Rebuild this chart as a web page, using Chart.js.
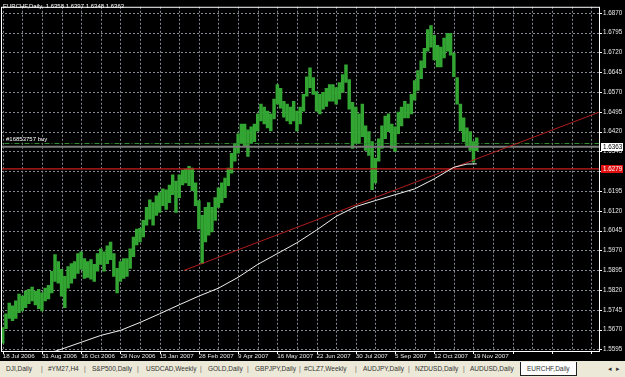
<!DOCTYPE html>
<html>
<head>
<meta charset="utf-8">
<title>EURCHF,Daily</title>
<script src="https://cdn.jsdelivr.net/npm/chart.js@4.4.1/dist/chart.umd.min.js"></script>
<style>
  html, body { margin: 0; padding: 0; background: #000; }
  body { width: 625px; height: 377px; overflow: hidden; position: relative; font-family: 'Liberation Sans', Arial, sans-serif; }
  #wrap { position: absolute; left: 0; top: 0; width: 625px; height: 361px; }
  #tabs { position: absolute; left: 0; top: 361px; width: 625px; height: 16px; background: #ece9d8; font-size: 6.5px; color: #333; }
  #tabs span { position: absolute; top: 4px; white-space: nowrap; }
  #tabs .sep { color: #666; }
  #tabs .active { top: 1px; height: 13px; line-height: 13px; background: #fff; border: 1px solid #222; border-top: none; padding: 0 6px; }
</style>
</head>
<body>
<div id="wrap"><canvas id="chart" width="625" height="361"></canvas></div>
<div id="tabs">
  <span style="left:6px">DJI,Daily</span><span class="sep" style="left:41px">|</span>
  <span style="left:48px">#YM27,H4</span><span class="sep" style="left:84px">|</span>
  <span style="left:92px">S&amp;P500,Daily</span><span class="sep" style="left:137px">|</span>
  <span style="left:146px">USDCAD,Weekly</span><span class="sep" style="left:200px">|</span>
  <span style="left:208px">GOLD,Daily</span><span class="sep" style="left:247px">|</span>
  <span style="left:255px">GBPJPY,Daily</span><span class="sep" style="left:299px">|</span>
  <span style="left:304px">#CLZ7,Weekly</span><span class="sep" style="left:355px">|</span>
  <span style="left:363px">AUDJPY,Daily</span><span class="sep" style="left:408px">|</span>
  <span style="left:415px">NZDUSD,Daily</span><span class="sep" style="left:463px">|</span>
  <span style="left:470px">AUDUSD,Daily</span>
  <span class="active" style="left:520px">EURCHF,Daily</span>
  <span style="left:608px">&#9666;</span><span style="left:616px">&#9656;</span>
</div>
<script>
// Daily bars (one entry per ~2.5 trading days)
const highs = [
  1.5678, 1.5730, 1.5771, 1.5760, 1.5779, 1.5805, 1.5797, 1.5816, 1.5823, 1.5831,
  1.5816, 1.5823, 1.5809, 1.5827, 1.5838, 1.5891, 1.5954, 1.5928, 1.5898, 1.5872,
  1.5909, 1.5920, 1.5928, 1.5958, 1.5965, 1.5939, 1.5928, 1.5935, 1.5917, 1.5958,
  1.5976, 1.5965, 1.5987, 1.6002, 1.5958, 1.5902, 1.5928, 1.5939, 1.5939, 1.5976,
  1.6021, 1.6051, 1.6054, 1.6084, 1.6133, 1.6162, 1.6151, 1.6177, 1.6189, 1.6203,
  1.6200, 1.6218, 1.6256, 1.6233, 1.6256, 1.6274, 1.6278, 1.6289, 1.6282, 1.6226,
  1.6159, 1.6103, 1.6133, 1.6151, 1.6133, 1.6170, 1.6207, 1.6226, 1.6244, 1.6282,
  1.6338, 1.6375, 1.6412, 1.6449, 1.6449, 1.6427, 1.6438, 1.6449, 1.6487, 1.6524,
  1.6513, 1.6498, 1.6487, 1.6543, 1.6598, 1.6584, 1.6535, 1.6524, 1.6513, 1.6535,
  1.6498, 1.6513, 1.6561, 1.6628, 1.6662, 1.6625, 1.6572, 1.6561, 1.6569, 1.6584,
  1.6598, 1.6598, 1.6587, 1.6606, 1.6636, 1.6673, 1.6617, 1.6531, 1.6513, 1.6487,
  1.6524, 1.6442, 1.6420, 1.6382, 1.6319, 1.6393, 1.6442, 1.6479, 1.6487, 1.6449,
  1.6438, 1.6494, 1.6513, 1.6535, 1.6524, 1.6561, 1.6613, 1.6651, 1.6688, 1.6736,
  1.6807, 1.6822, 1.6785, 1.6747, 1.6740, 1.6774, 1.6792, 1.6792, 1.6718, 1.6625,
  1.6524, 1.6472, 1.6434, 1.6420, 1.6382, 1.6397
];
const lows = [
  1.5619, 1.5674, 1.5712, 1.5704, 1.5712, 1.5734, 1.5741, 1.5753, 1.5768, 1.5779,
  1.5764, 1.5749, 1.5741, 1.5779, 1.5786, 1.5809, 1.5853, 1.5846, 1.5797, 1.5753,
  1.5827, 1.5846, 1.5864, 1.5883, 1.5898, 1.5864, 1.5868, 1.5861, 1.5853, 1.5891,
  1.5917, 1.5891, 1.5920, 1.5935, 1.5872, 1.5809, 1.5853, 1.5864, 1.5872, 1.5902,
  1.5946, 1.5991, 1.6002, 1.6021, 1.6066, 1.6088, 1.6066, 1.6103, 1.6114, 1.6140,
  1.6125, 1.6151, 1.6181, 1.6114, 1.6170, 1.6218, 1.6226, 1.6215, 1.6196, 1.6140,
  1.6051, 1.5920, 1.6002, 1.6028, 1.6040, 1.6084, 1.6133, 1.6151, 1.6170, 1.6215,
  1.6263, 1.6308, 1.6338, 1.6375, 1.6367, 1.6326, 1.6375, 1.6382, 1.6423, 1.6461,
  1.6449, 1.6434, 1.6423, 1.6468, 1.6524, 1.6509, 1.6475, 1.6461, 1.6449, 1.6461,
  1.6423, 1.6449, 1.6498, 1.6554, 1.6587, 1.6561, 1.6498, 1.6487, 1.6505, 1.6516,
  1.6535, 1.6535, 1.6524, 1.6543, 1.6569, 1.6606, 1.6505, 1.6356, 1.6375, 1.6375,
  1.6401, 1.6349, 1.6330, 1.6200, 1.6226, 1.6308, 1.6356, 1.6393, 1.6420, 1.6356,
  1.6345, 1.6412, 1.6442, 1.6472, 1.6472, 1.6487, 1.6539, 1.6576, 1.6621, 1.6662,
  1.6725, 1.6740, 1.6692, 1.6665, 1.6665, 1.6699, 1.6725, 1.6710, 1.6628, 1.6524,
  1.6423, 1.6382, 1.6364, 1.6349, 1.6304, 1.6348
];

// moving average (white line)
const maIndex  = [15, 18, 24, 30, 36, 42, 48, 54, 60, 66, 72, 78, 84, 90, 96, 102, 108, 114, 120, 126, 132, 138, 142, 145];
const maValues = [1.5584, 1.5596, 1.5622, 1.5648, 1.5667, 1.5697, 1.5730, 1.5764, 1.5797, 1.5827, 1.5868, 1.5917,
                  1.5958, 1.5999, 1.6047, 1.6099, 1.6136, 1.6159, 1.6181, 1.6203, 1.6241, 1.6285, 1.6297, 1.6298];

// trend line (red ray)
const trendIndex  = [55.4, 182.7];
const trendValues = [1.5894, 1.6495];

// horizontal levels
const bidPrice = 1.6363;
const stopPrice = 1.6279;
const orderPrice = 1.6375;
const orderLabel = '#16853757 buy';
const titleText = 'EURCHF,Daily  1.6358 1.6397 1.6348 1.6363';

// axes
const priceTicks = [1.5595, 1.5670, 1.5745, 1.5820, 1.5895, 1.5970, 1.6045, 1.6120, 1.6195,
                    1.6270, 1.6345, 1.6420, 1.6495, 1.6570, 1.6645, 1.6720, 1.6795, 1.6870];
const dateLabels = ['18 Jul 2006', '31 Aug 2006', '16 Oct 2006', '29 Nov 2006', '15 Jan 2007', '28 Feb 2007',
                    '9 Apr 2007', '16 May 2007', '22 Jun 2007', '30 Jul 2007', '5 Sep 2007', '12 Oct 2007', '19 Nov 2007'];

const X_MIN = -0.52, X_MAX = 182.7;
const Y_MIN = 1.5589, Y_MAX = 1.6893;
const FONT_FAMILY = "'Liberation Sans', Arial, sans-serif";
const GRID_COLOR = '#838a92';

function hline(value) {
    return [{ x: X_MIN - 2, y: value }, { x: X_MAX + 2, y: value }];
}

// dotted MT4 style grid, drawn under the bars
const gridPlugin = {
    id: 'mtGrid',
    beforeDatasetsDraw(chart) {
        const { ctx, chartArea: a, scales: { x, y } } = chart;
        ctx.save();
        ctx.strokeStyle = GRID_COLOR;
        ctx.lineWidth = 1;
        ctx.setLineDash([2, 2]);
        x.ticks.forEach(t => {
            const px = Math.round(x.getPixelForValue(t.value)) + 0.5;
            ctx.beginPath(); ctx.moveTo(px, a.top); ctx.lineTo(px, a.bottom); ctx.stroke();
        });
        y.ticks.forEach(t => {
            const py = Math.round(y.getPixelForValue(t.value)) + 0.5;
            ctx.beginPath(); ctx.moveTo(a.left, py); ctx.lineTo(a.right, py); ctx.stroke();
        });
        ctx.restore();
    }
};

// frame, captions and price boxes
const overlay = {
    id: 'overlay',
    afterDraw(chart) {
        const { ctx, chartArea: a, scales: { x, y } } = chart;
        ctx.save();
        ctx.strokeStyle = '#ffffff';
        ctx.lineWidth = 1;
        ctx.strokeRect(a.left + 0.5, a.top + 0.5, a.right - a.left - 1, a.bottom - a.top);

        // small tick marks on both axes
        ctx.beginPath();
        y.ticks.forEach(t => {
            const py = Math.round(y.getPixelForValue(t.value)) + 0.5;
            ctx.moveTo(a.right, py); ctx.lineTo(a.right + 2, py);
        });
        x.ticks.forEach(t => {
            if (t.value % 12 !== 0) return;
            const px = Math.round(x.getPixelForValue(t.value)) + 0.5;
            ctx.moveTo(px, a.bottom); ctx.lineTo(px, a.bottom + 3);
        });
        ctx.stroke();

        ctx.font = `6px ${FONT_FAMILY}`;
        ctx.fillStyle = '#ffffff';
        ctx.textBaseline = 'middle';
        ctx.fillText(titleText, 3, 6);
        ctx.fillText(orderLabel, 6, y.getPixelForValue(orderPrice) - 4);

        const boxes = [
            { v: bidPrice, bg: '#ffffff', fg: '#000000' },
            { v: stopPrice, bg: '#e01010', fg: '#ffffff' }
        ];
        ctx.font = `6.3px ${FONT_FAMILY}`;
        boxes.forEach(b => {
            const py = Math.round(y.getPixelForValue(b.v));
            ctx.fillStyle = b.bg;
            ctx.fillRect(601, py - 4, 22, 8);
            ctx.fillStyle = b.fg;
            ctx.fillText(b.v.toFixed(4), 603, py + 0.5);
        });
        ctx.restore();
    }
};

function init() {
    const ctx = document.getElementById('chart').getContext('2d');
    new Chart(ctx, {
        type: 'bar',
        data: {
            datasets: [
                {
                    type: 'line', label: 'MA',
                    data: maIndex.map((x, k) => ({ x, y: maValues[k] })),
                    borderColor: '#eeeeee', borderWidth: 1, pointRadius: 0, tension: 0
                },
                {
                    type: 'line', label: 'Trend',
                    data: trendIndex.map((x, k) => ({ x, y: trendValues[k] })),
                    borderColor: '#b01c1c', borderWidth: 1, pointRadius: 0
                },
                {
                    type: 'line', label: 'Order',
                    data: hline(orderPrice),
                    borderColor: '#2f8f2f', borderWidth: 1, borderDash: [5, 2, 1, 2], pointRadius: 0
                },
                {
                    type: 'line', label: 'Bid',
                    data: hline(bidPrice),
                    borderColor: '#7a7a7a', borderWidth: 2, pointRadius: 0
                },
                {
                    type: 'line', label: 'Stop',
                    data: hline(stopPrice),
                    borderColor: '#c81e1e', borderWidth: 1.3, pointRadius: 0
                },
                {
                    type: 'bar', label: 'EURCHF',
                    data: highs.map((h, i) => ({ x: i, y: [lows[i], h] })),
                    backgroundColor: '#32a532',
                    barThickness: 2.8,
                    grouped: false
                }
            ]
        },
        options: {
            responsive: false,
            animation: false,
            layout: { padding: { left: 1, top: 1, right: 0, bottom: 0 } },
            plugins: { legend: { display: false }, tooltip: { enabled: false } },
            scales: {
                x: {
                    type: 'linear',
                    offset: false,
                    min: X_MIN, max: X_MAX,
                    afterBuildTicks: s => {
                        const t = [];
                        for (let v = 0; v <= 180; v += 6) t.push({ value: v });
                        s.ticks = t;
                    },
                    afterFit: s => { s.height = 10; },
                    grid: { display: false, drawTicks: false, offset: false },
                    border: { display: false },
                    ticks: {
                        autoSkip: false, maxRotation: 0, align: 'start', padding: 2,
                        color: '#e8e8e8', font: { family: FONT_FAMILY, size: 6.2 },
                        callback: v => (v % 12 === 0 && dateLabels[v / 12]) ? dateLabels[v / 12] : ''
                    }
                },
                y: {
                    position: 'right',
                    min: Y_MIN, max: Y_MAX,
                    afterBuildTicks: s => { s.ticks = priceTicks.map(v => ({ value: v })); },
                    afterFit: s => { s.width = 25; },
                    grid: { display: false, drawTicks: false },
                    border: { display: false },
                    ticks: {
                        autoSkip: false, padding: 3,
                        color: '#e8e8e8', font: { family: FONT_FAMILY, size: 6.3 },
                        callback: v => Number(v).toFixed(4)
                    }
                }
            }
        },
        plugins: [gridPlugin, overlay]
    });
}

document.addEventListener('DOMContentLoaded', init);
</script>
</body>
</html>
